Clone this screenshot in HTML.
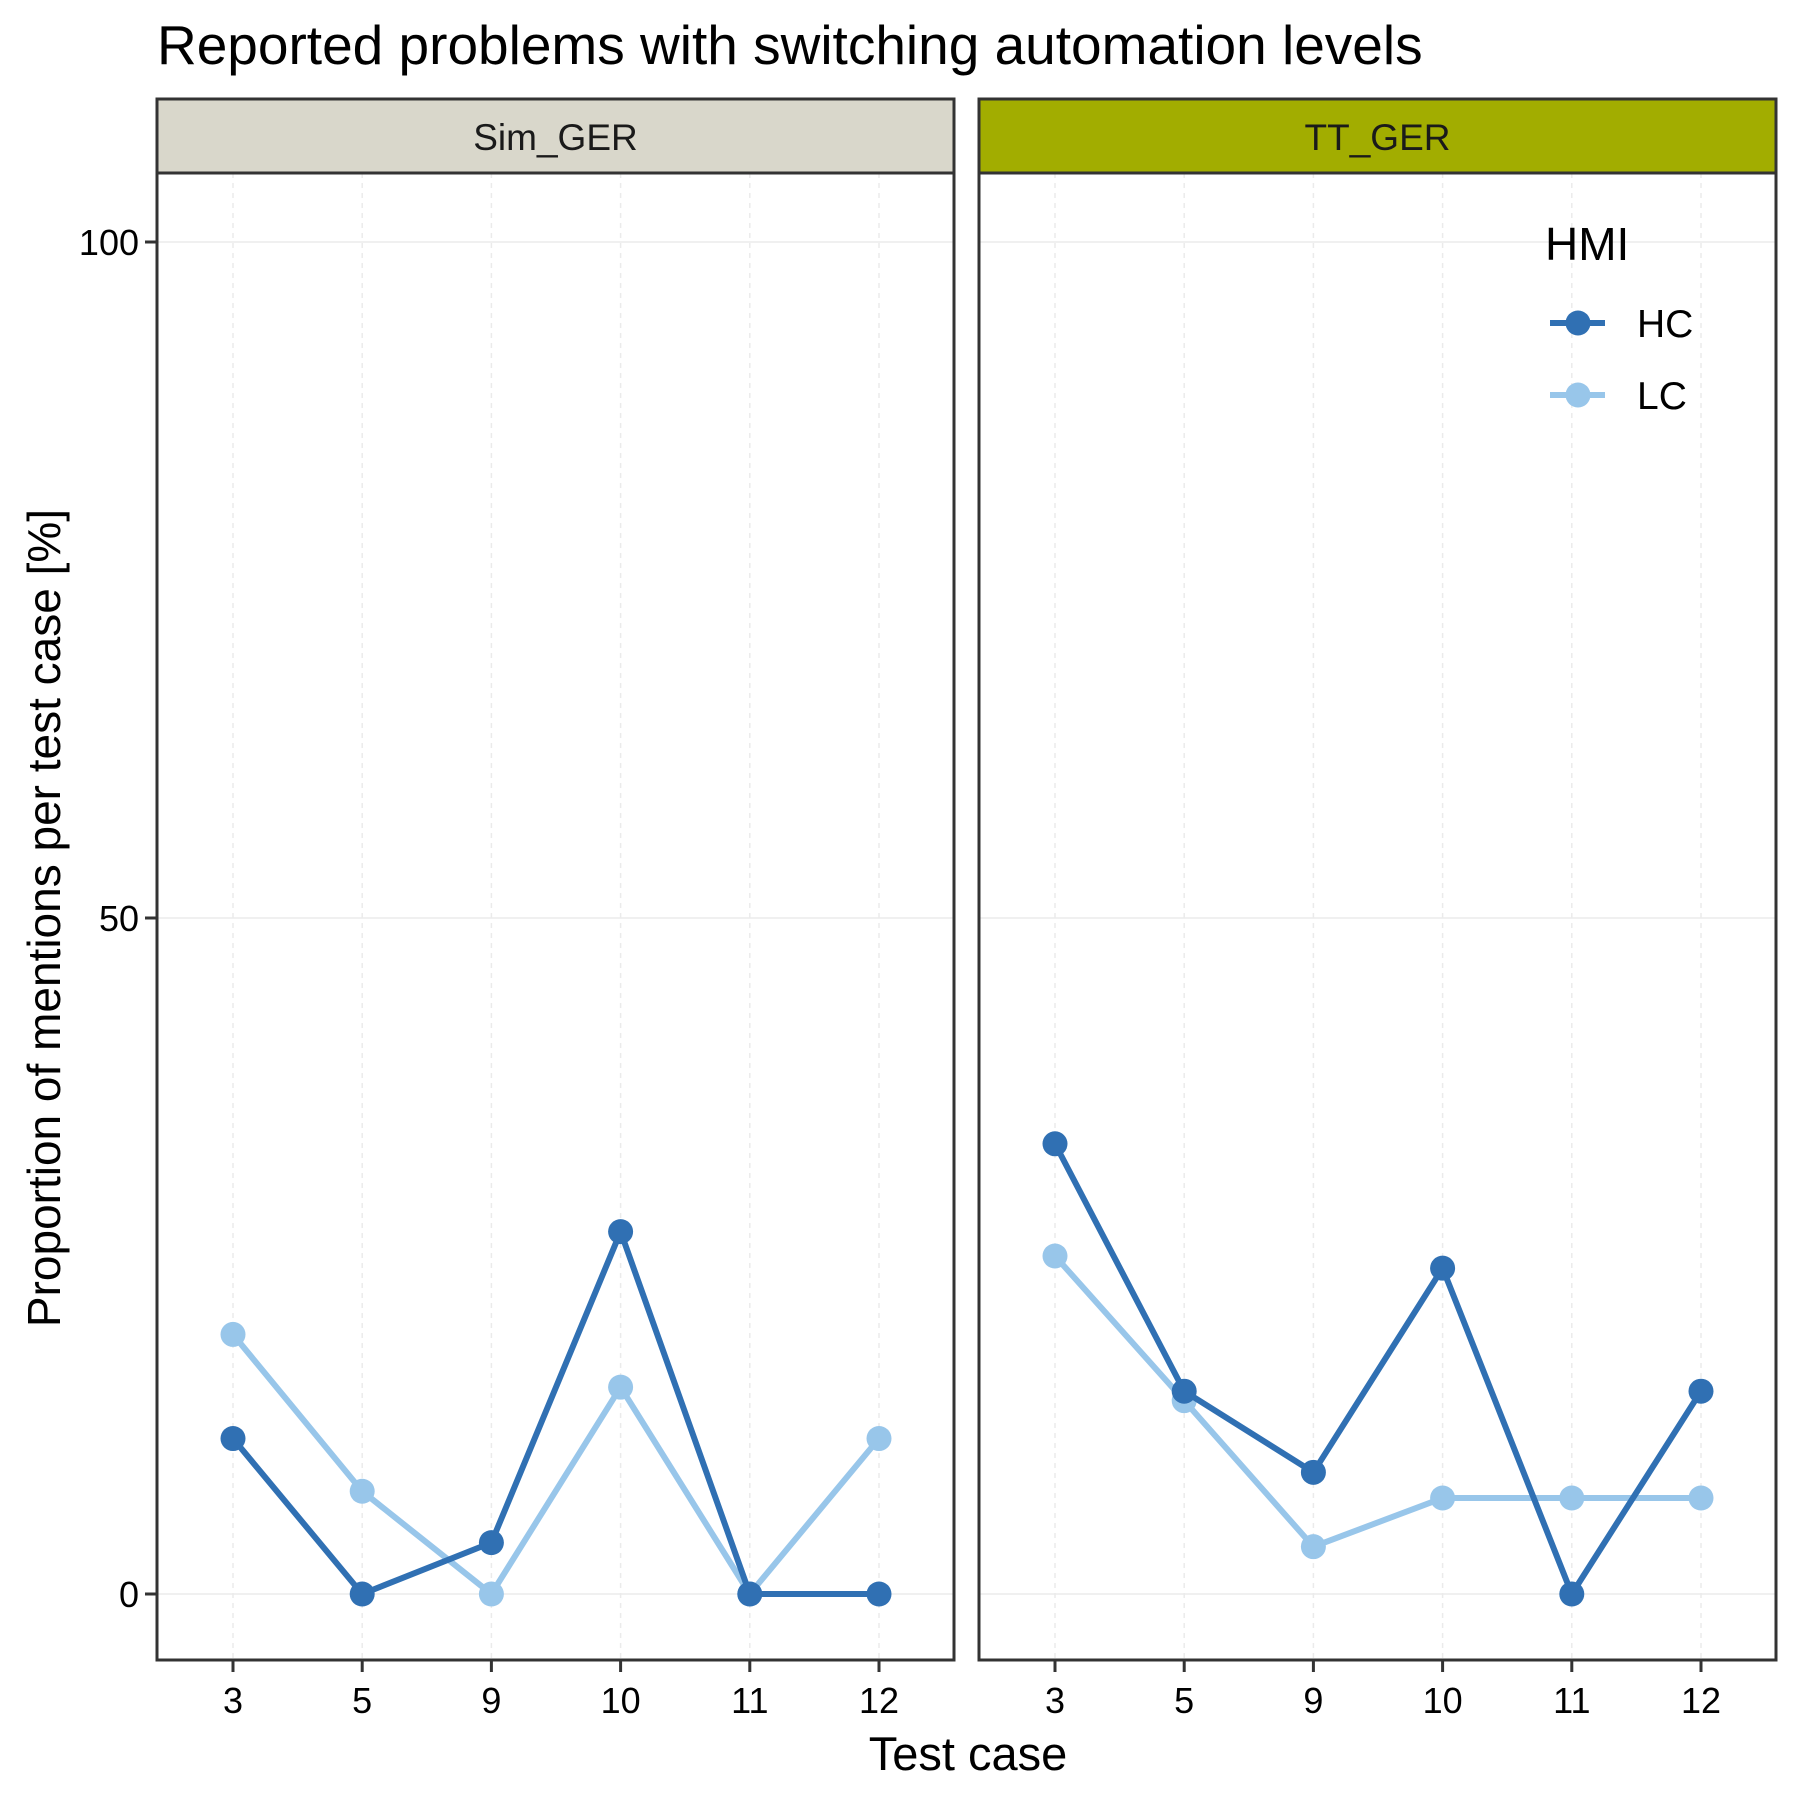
<!DOCTYPE html>
<html><head><meta charset="utf-8"><style>body{margin:0;background:#fff}svg{display:block;font-family:"Liberation Sans",Arial,sans-serif}</style></head>
<body>
<svg id="chart" width="1800" height="1800" viewBox="0 0 1800 1800">
<text x="157" y="64" font-size="55" fill="#000">Reported problems with switching automation levels</text>
<text transform="translate(60,918) rotate(-90)" text-anchor="middle" font-size="46">Proportion of mentions per test case [%]</text>
<text x="968" y="1770" text-anchor="middle" font-size="47">Test case</text>
<g id="plots"></g>
</svg>
<script>
const categories = ["3","5","9","10","11","12"];
const panels = ["Sim_GER","TT_GER"];
const simHC = [11.5, 0, 3.8, 26.8, 0, 0];
const simLC = [19.2, 7.6, 0, 15.3, 0, 11.5];
const ttHC = [33.3, 15.0, 9.0, 24.1, 0, 15.0];
const ttLC = [25.0, 14.3, 3.5, 7.1, 7.1, 7.1];
const yTicks = [0, 50, 100];
const seriesNames = ["HC","LC"];

const NS = "http://www.w3.org/2000/svg";
const plotsG = document.getElementById('plots');
function mk(tag, attrs, parent){const e=document.createElementNS(NS,tag);for(const k in attrs)e.setAttribute(k,attrs[k]);(parent||plotsG).appendChild(e);return e;}
const colors = {HC:"#3070b3", LC:"#98c6ea"};
const panelDefs = [
  {x0:157, x1:954, strip:"#d9d7cb", data:{HC:simHC, LC:simLC}},
  {x0:979, x1:1776, strip:"#a2ad00", data:{HC:ttHC, LC:ttLC}}
];
const yTop=173, yBot=1660;
function yS(v){return 1594 - v*(1594-242)/100;}
panelDefs.forEach((p,pi)=>{
  const xS = i => p.x0 + 76 + i*129.2;
  const pg = mk('g',{});
  
  
  mk('rect',{x:p.x0,y:yTop,width:p.x1-p.x0,height:yBot-yTop,fill:"#fff"},pg);
  yTicks.forEach(v=>{
    const l=mk('line',{x1:p.x0,x2:p.x1,y1:yS(v),y2:yS(v),stroke:"#ebebeb","stroke-width":1.5},pg);
    
    
  });
  categories.forEach((c,i)=>{
    mk('line',{x1:xS(i),x2:xS(i),y1:yTop,y2:yBot,stroke:"#ebebeb","stroke-width":1.5,"stroke-dasharray":"5,5"},pg);
    mk('line',{x1:xS(i),x2:xS(i),y1:yBot,y2:yBot+12,stroke:"#333","stroke-width":3},pg);
    const t=mk('text',{x:xS(i),y:1713,"text-anchor":"middle","font-size":36,fill:"#000"},pg);
    t.textContent=c;
    
    
  });
  if(pi===0){
    yTicks.forEach(v=>{
      mk('line',{x1:p.x0-12,x2:p.x0,y1:yS(v),y2:yS(v),stroke:"#333","stroke-width":3},pg);
      const t=mk('text',{x:p.x0-18,y:yS(v)+13,"text-anchor":"end","font-size":36,fill:"#000"},pg);
      t.textContent=String(v);
      
      
    });
  }
  ["LC","HC"].forEach(s=>{
    const vals=p.data[s];
    const pts=vals.map((v,i)=>xS(i)+","+yS(v)).join(" ");
    const pl=mk('polyline',{points:pts,fill:"none",stroke:colors[s],"stroke-width":6,"stroke-linejoin":"round"},pg);
    
    
    vals.forEach((v,i)=>{
      const c=mk('circle',{cx:xS(i),cy:yS(v),r:12.5,fill:colors[s]},pg);
      
      
    });
  });
  mk('rect',{x:p.x0,y:yTop,width:p.x1-p.x0,height:yBot-yTop,fill:"none",stroke:"#333","stroke-width":3},pg);
  const sr=mk('rect',{x:p.x0,y:99,width:p.x1-p.x0,height:yTop-99,fill:p.strip,stroke:"#333","stroke-width":3},pg);
  
  
  const st=mk('text',{x:(p.x0+p.x1)/2,y:150,"text-anchor":"middle","font-size":37,fill:"#1a1a1a"},pg);
  st.textContent=panels[pi];
  
  
});
const lg=mk('g',{});


const lt=mk('text',{x:1545,y:260,"font-size":46,fill:"#000"},lg);
lt.textContent="HMI";


seriesNames.forEach((s,i)=>{
  const y=323+i*72;
  const e=mk('g',{},lg);
  
  
  mk('line',{x1:1550,x2:1605,y1:y,y2:y,stroke:colors[s],"stroke-width":6},e);
  mk('circle',{cx:1578,cy:y,r:12.5,fill:colors[s]},e);
  const t=mk('text',{x:1637,y:y+14,"font-size":39,fill:"#000"},e);
  t.textContent=s;
});
</script>
</body></html>
